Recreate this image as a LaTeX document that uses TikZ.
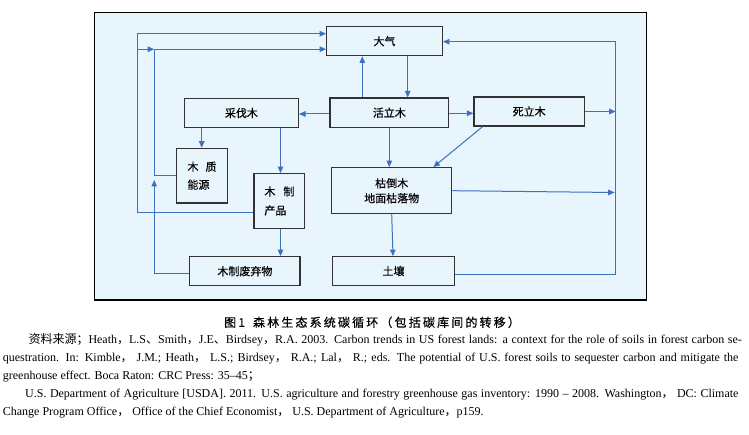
\documentclass[tikz,border=0pt]{standalone}
\usepackage{fontspec}
\setmainfont{Liberation Serif}
\newfontfamily\cjk{Noto Sans CJK SC}
\newfontfamily\cjkbox[FakeBold=0.5]{Noto Sans CJK SC}
\newfontfamily\cjkcap[LetterSpace=18,FakeBold=0.6]{Noto Sans CJK SC}
\usetikzlibrary{arrows.meta,calc}
\definecolor{bgblue}{RGB}{233,245,253}
\definecolor{lineblue}{RGB}{62,112,192}
\definecolor{boxline}{RGB}{50,50,50}
\tikzset{
  box/.style={draw=boxline, line width=1.2pt, fill=bgblue, inner sep=0pt,
    font=\cjkbox\fontsize{11pt}{13pt}\selectfont, align=center},
  conn/.style={draw=lineblue, line width=1pt, -{Triangle[length=6.5pt,width=5.5pt]}},
  reftext/.style={inner sep=0pt, anchor=west, font=\fontsize{12pt}{14pt}\selectfont}
}
\begin{document}
\begin{tikzpicture}[x=1pt,y=-1pt]
\useasboundingbox (0,0) rectangle (749,435);
% frame
\draw[black, line width=1.2pt, fill=bgblue] (94.3,12.7) rectangle (646.7,300);
% boxes
\node[box, minimum width=115.6pt, minimum height=29pt] (dq) at (384.5,41.2) {大气};
\node[box, minimum width=114pt, minimum height=29.4pt] (cf) at (241.4,113) {采伐木};
\node[box, minimum width=118.7pt, minimum height=29.3pt] (hl) at (389.4,112.7) {活立木};
\node[box, minimum width=110.3pt, minimum height=29pt] (sl) at (529.2,111.5) {死立木};
\node[box, minimum width=50.6pt, minimum height=54.7pt, align=left] (nz) at (202,175.7) {木\hspace{7pt}质\\[5pt]能源};
\node[box, minimum width=50.7pt, minimum height=54.6pt, align=left] (mp) at (279.4,201) {木\hspace{8pt}制\\[6pt]产品};
\node[box, minimum width=120pt, minimum height=46pt] (kd) at (391.7,190.7) {枯倒木\\[2pt]地面枯落物};
\node[box, minimum width=110.3pt, minimum height=29pt] (fq) at (244.9,271.2) {木制废弃物};
\node[box, minimum width=121.6pt, minimum height=28.6pt] (tr) at (393.5,271) {土壤};
% helper coordinates
\coordinate (xo) at (137.7,0);
\coordinate (xi) at (154.2,0);
\coordinate (xr) at (615.7,0);
\coordinate (yt1) at (0,33.7);
\coordinate (yt2) at (0,49.2);
\coordinate (yt3) at (0,41.7);
\coordinate (ya) at (0,212.7);
\coordinate (yd) at (0,273.7);
\coordinate (yc) at (0,180);
\coordinate (ys) at (0,274.5);
\coordinate (yk) at (0,192.5);
\coordinate (x1) at (407.7,0);
\coordinate (x2) at (362.3,0);
\coordinate (x3) at (201.7,0);
\coordinate (x4) at (280.5,0);
\coordinate (x5) at (389.3,0);
\coordinate (x6) at (482.7,0);
\coordinate (x7) at (433.3,0);
\coordinate (x8) at (391.7,0);
\coordinate (x9) at (393,0);
\coordinate (y1) at (0,114);
\coordinate (y2) at (0,113.3);
% connectors
\draw[conn] (mp.west |- ya) -- (xo |- ya) -- (xo |- yt1) -- (dq.west |- yt1);
\draw[conn] (xo |- yt2) -- (xi |- yt2);
\draw[conn] (nz.west) -- (nz.west -| xi) -- (xi |- yt2) -- (dq.west |- yt2);
\draw[conn] (fq.west |- yd) -- (xi |- yd) -- (xi |- yc);
\draw[conn] (dq.south -| x1) -- (hl.north -| x1);
\draw[conn] (hl.north -| x2) -- (dq.south -| x2);
\draw[conn] (hl.west |- y1) -- (cf.east |- y1);
\draw[conn] (hl.east |- y2) -- (sl.west |- y2);
\draw[conn] (sl.east) -- (sl.east -| xr);
\draw[conn] (tr.east |- ys) -- (xr |- ys) -- (xr |- yt3) -- (dq.east |- yt3);
\draw[conn] (kd.east) -- ($(xr |- yk)+(-1,0)$);
\draw[conn] (cf.south -| x3) -- (nz.north -| x3);
\draw[conn] (cf.south -| x4) -- (mp.north -| x4);
\draw[conn] (mp.south -| x4) -- (fq.north -| x4);
\draw[conn] (hl.south -| x5) -- (kd.north -| x5);
\draw[conn] (sl.south -| x6) -- (kd.north -| x7);
\draw[conn] (kd.south -| x8) -- (tr.north -| x9);
% caption
\node[inner sep=0pt, anchor=west, font=\cjkcap\fontsize{12pt}{14pt}\selectfont] (cap) at (224,322.3) {图1\hspace{8pt}森林生态系统碳循环（包括碳库间的转移）};
% references
\node[reftext] (r1) at (28.3,340) {\makebox[713.4pt][s]{{\cjk 资料来源；}Heath{\cjk ，}L.S{\cjk 、}Smith{\cjk ，}J.E{\cjk 、}Birdsey{\cjk ，}R.A. 2003. Carbon trends in US forest lands: a context for the role of soils in forest carbon se-}};
\node[reftext] (r2) at (2.7,358.3) {\makebox[735.6pt][s]{questration. In: Kimble{\cjk ，} J.M.; Heath{\cjk ，} L.S.; Birdsey{\cjk ，} R.A.; Lal{\cjk ，} R.; eds. The potential of U.S. forest soils to sequester carbon and mitigate the}};
\node[reftext] (r3) at (2.7,376.7) {greenhouse effect. Boca Raton: CRC Press: 35–45{\cjk ；}};
\node[reftext] (r4) at (25,394.3) {\makebox[713.3pt][s]{U.S. Department of Agriculture [USDA]. 2011. U.S. agriculture and forestry greenhouse gas inventory: 1990 – 2008. Washington{\cjk ，} DC: Climate}};
\node[reftext] (r5) at (2.7,412.3) {Change Program Office{\cjk ，} Office of the Chief Economist{\cjk ，} U.S. Department of Agriculture{\cjk ，}p159.};
\end{tikzpicture}
\end{document}
